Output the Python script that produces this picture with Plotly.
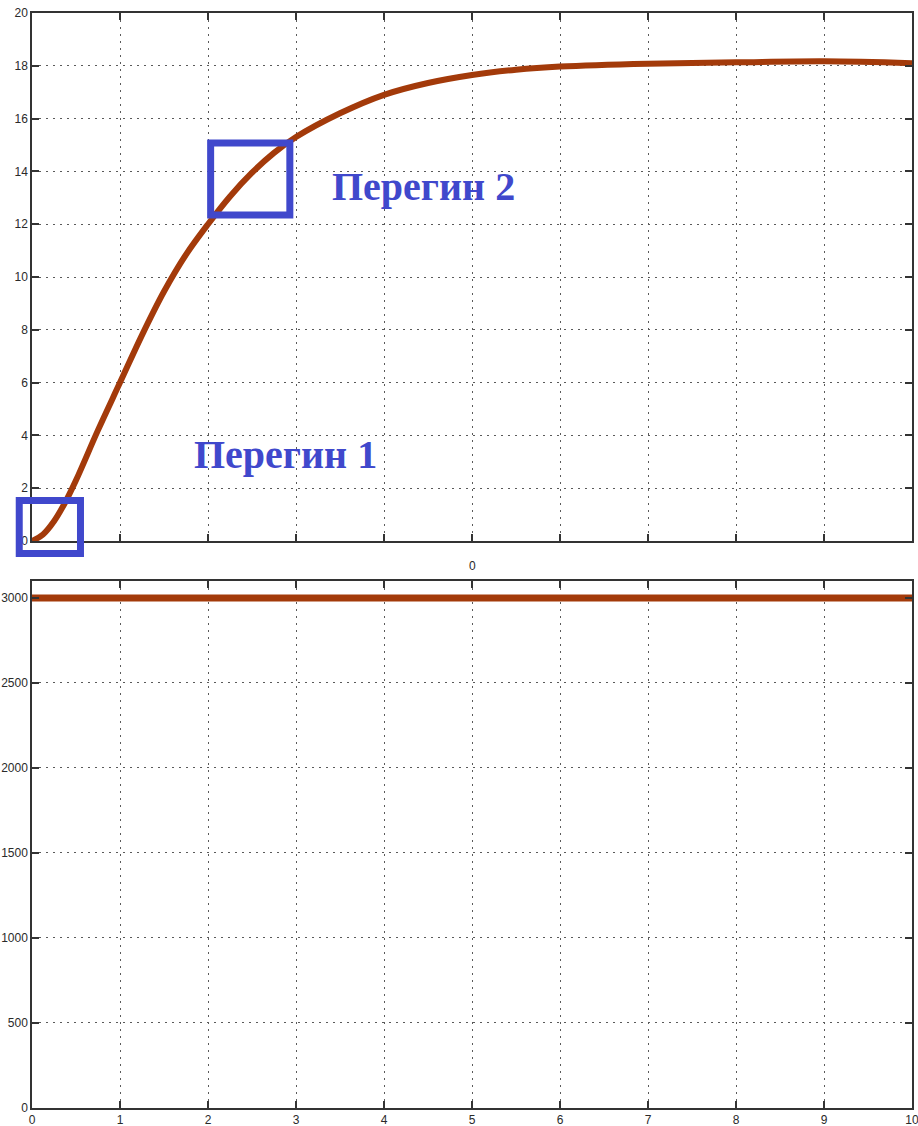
import plotly.graph_objects as go

# Step response of the closed loop (top panel)
t_resp = [0.0, 0.125, 0.25, 0.375, 0.5, 0.75, 1.0, 1.25, 1.5, 1.75, 2.0, 2.25, 2.5,
          2.75, 3.0, 3.5, 4.0, 4.5, 5.0, 5.5, 6.0, 7.0, 8.0, 9.0, 10.0]
y_resp = [0.0, 0.25, 0.75, 1.45, 2.3, 4.2, 6.0, 7.8, 9.45, 10.85, 12.0, 13.05, 13.95,
          14.7, 15.3, 16.2, 16.9, 17.35, 17.65, 17.85, 17.97, 18.08, 18.13, 18.17, 18.1]

# Constant reference signal (bottom panel)
t_ref = [0.0, 10.0]
y_ref = [3000, 3000]

x_ticks = list(range(0, 11))
top_y_ticks = list(range(0, 21, 2))
bottom_y_ticks = list(range(0, 3001, 500))

# Highlighted regions (data coordinates of the top panel): (t0, t1, y0, y1)
region_1 = (-0.145, 0.551, -0.47, 1.53)
region_2 = (2.03, 2.93, 12.35, 15.08)
label_1 = ("Перегин 1", 2.875, 3.26)
label_2 = ("Перегин 2", 4.45, 13.43)

W, H = 918, 1126
M_L, M_R, M_T, M_B = 32, 6, 13, 18
TOP_DOMAIN = [0.5178, 1.0]
BOTTOM_DOMAIN = [0.0, 0.4813]
TOP_XRANGE = [0, 10]
TOP_YRANGE = [0, 20]

LINE_COLOR = "#A33A0A"
MARK_COLOR = "#4048CC"
TEXT_COLOR = "#2a2a2a"


def top_to_paper(t, v):
    px = (t - TOP_XRANGE[0]) / (TOP_XRANGE[1] - TOP_XRANGE[0])
    py = TOP_DOMAIN[0] + (v - TOP_YRANGE[0]) / (TOP_YRANGE[1] - TOP_YRANGE[0]) * (
        TOP_DOMAIN[1] - TOP_DOMAIN[0])
    return px, py


fig = go.Figure()
fig.add_trace(go.Scatter(x=t_resp, y=y_resp, mode="lines", xaxis="x", yaxis="y",
                         line=dict(color=LINE_COLOR, width=6, shape="spline", smoothing=1.0),
                         showlegend=False, hoverinfo="skip"))
fig.add_trace(go.Scatter(x=t_ref, y=y_ref, mode="lines", xaxis="x2", yaxis="y2",
                         line=dict(color=LINE_COLOR, width=7),
                         showlegend=False, hoverinfo="skip"))

axis_style = dict(
    showline=True, linecolor="#333333", linewidth=1.5, mirror="ticks",
    ticks="inside", tickcolor="#333333", tickwidth=2, ticklen=7,
    showgrid=True, gridcolor="#5a5a5a", griddash="2px,5px", gridwidth=1,
    zeroline=False, automargin=False, ticklabeloverflow="allow",
)
tick_font = dict(family="Liberation Sans, Arial, sans-serif", size=12, color=TEXT_COLOR)

fig.update_layout(
    width=W, height=H,
    margin=dict(l=M_L, r=M_R, t=M_T, b=M_B),
    paper_bgcolor="white", plot_bgcolor="white",
    template="none",
    xaxis=dict(domain=[0, 1], range=TOP_XRANGE, tickvals=x_ticks, showticklabels=False,
               anchor="y", tickfont=tick_font, **axis_style),
    yaxis=dict(domain=TOP_DOMAIN, range=TOP_YRANGE, tickvals=top_y_ticks, anchor="x",
               tickfont=tick_font, **axis_style),
    xaxis2=dict(domain=[0, 1], range=[0, 10], tickvals=x_ticks, anchor="y2",
                tickfont=tick_font, **axis_style),
    yaxis2=dict(domain=BOTTOM_DOMAIN, range=[0, 3100], tickvals=bottom_y_ticks, anchor="x2",
                tickfont=tick_font, **axis_style),
)

for (t0, t1, v0, v1) in (region_1, region_2):
    x0, y0 = top_to_paper(t0, v0)
    x1, y1 = top_to_paper(t1, v1)
    fig.add_shape(type="rect", xref="paper", yref="paper", x0=x0, x1=x1, y0=y0, y1=y1,
                  line=dict(color=MARK_COLOR, width=7), fillcolor="rgba(0,0,0,0)",
                  layer="above")

for text, t, v in (label_1, label_2):
    px, py = top_to_paper(t, v)
    fig.add_annotation(text=f"<b>{text}</b>", xref="paper", yref="paper", x=px, y=py,
                       xanchor="center", yanchor="middle", showarrow=False,
                       font=dict(family="Liberation Serif, Times New Roman, serif",
                                 size=40, color=MARK_COLOR))

# Label between the two panels
fig.add_annotation(text="0", xref="paper", yref="paper", x=0.5, y=0.495,
                   xanchor="center", yanchor="middle", showarrow=False,
                   font=tick_font)

fig.write_html("out.html")
